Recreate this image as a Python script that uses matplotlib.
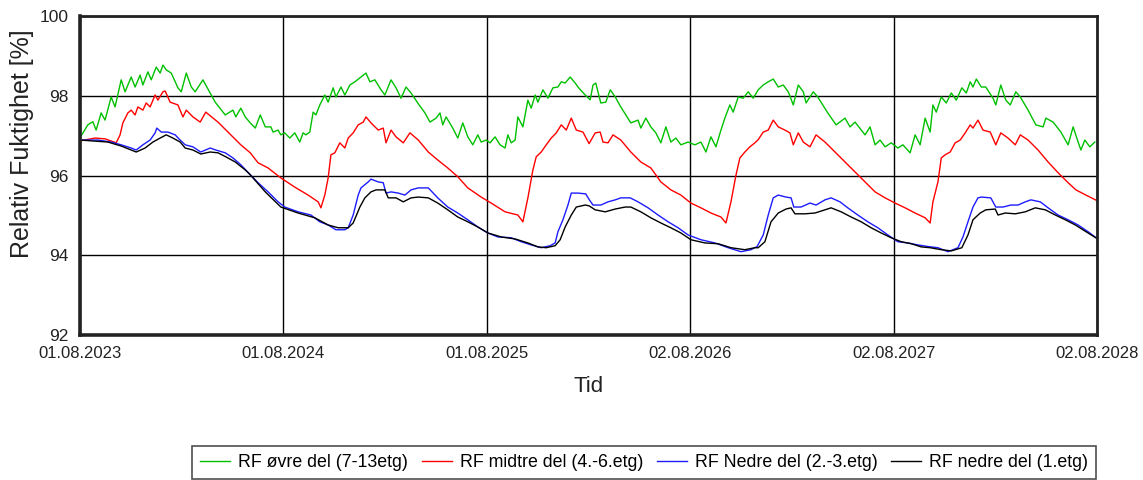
import matplotlib
matplotlib.use("Agg")
import matplotlib.pyplot as plt
import numpy as np

plt.rcParams['font.family'] = ['Liberation Sans', 'DejaVu Sans']

# dager etter 01.08.2023, RF [%]
ovre_del = [
    (1, 96.97), (14, 97.27), (23, 97.35), (29, 97.14), (38, 97.57), (45, 97.39), (56, 97.97),
    (63, 97.72), (74, 98.40), (81, 98.10), (92, 98.47), (99, 98.22), (108, 98.52), (113, 98.27),
    (122, 98.60), (128, 98.40), (137, 98.72), (144, 98.57), (149, 98.77), (155, 98.65),
    (164, 98.57), (176, 98.20), (182, 98.10), (191, 98.57), (200, 98.22), (207, 98.10),
    (221, 98.40), (226, 98.27), (243, 97.84), (261, 97.52), (275, 97.64), (280, 97.47),
    (289, 97.69), (297, 97.47), (306, 97.32), (315, 97.19), (324, 97.52), (333, 97.22),
    (343, 97.22), (347, 97.09), (356, 97.14), (361, 97.02), (368, 97.07), (377, 96.94),
    (386, 97.07), (395, 96.84), (401, 97.07), (406, 97.02), (413, 97.09), (419, 97.59),
    (424, 97.52), (431, 97.77), (440, 98.02), (446, 97.84), (455, 98.20), (460, 97.97),
    (469, 98.22), (476, 98.02), (485, 98.27), (494, 98.35), (503, 98.45), (509, 98.52),
    (514, 98.57), (521, 98.35), (530, 98.40), (541, 98.15), (548, 98.02), (559, 98.40),
    (568, 98.20), (577, 97.94), (586, 98.22), (595, 98.07), (608, 97.80), (620, 97.57),
    (629, 97.34), (640, 97.44), (647, 97.57), (652, 97.27), (658, 97.47), (670, 97.19),
    (679, 96.94), (688, 97.32), (697, 96.97), (706, 96.77), (715, 97.02), (721, 96.84),
    (730, 96.89), (737, 96.82), (746, 96.97), (755, 96.77), (764, 96.69), (769, 97.02),
    (775, 96.82), (782, 96.89), (787, 97.47), (796, 97.22), (805, 97.89), (811, 97.69),
    (818, 98.02), (823, 97.84), (832, 98.15), (841, 97.94), (850, 98.20), (859, 98.22),
    (865, 98.35), (872, 98.32), (881, 98.47), (890, 98.32), (895, 98.22), (908, 98.02),
    (917, 97.90), (922, 98.27), (927, 98.32), (936, 97.82), (945, 97.84), (953, 98.15),
    (962, 97.97), (972, 97.72), (990, 97.32), (1003, 97.39), (1008, 97.19), (1017, 97.44),
    (1026, 97.22), (1035, 97.07), (1044, 96.82), (1053, 97.22), (1062, 96.84), (1071, 96.94),
    (1080, 96.77), (1093, 96.84), (1105, 96.77), (1116, 96.84), (1125, 96.59), (1134, 96.97),
    (1143, 96.72), (1152, 97.14), (1159, 97.44), (1168, 97.77), (1174, 97.59), (1183, 97.97),
    (1192, 97.94), (1201, 98.10), (1210, 97.94), (1219, 98.15), (1228, 98.27), (1237, 98.35),
    (1246, 98.42), (1255, 98.22), (1264, 98.27), (1273, 98.10), (1282, 97.77), (1291, 98.27),
    (1300, 98.10), (1305, 97.82), (1318, 98.10), (1326, 97.97), (1344, 97.57), (1359, 97.27),
    (1375, 97.44), (1384, 97.22), (1393, 97.34), (1411, 97.02), (1420, 97.22), (1429, 96.77),
    (1438, 96.89), (1447, 96.72), (1458, 96.82), (1470, 96.69), (1479, 96.77), (1492, 96.57),
    (1501, 97.02), (1510, 96.77), (1519, 97.44), (1528, 97.09), (1533, 97.77), (1539, 97.59),
    (1548, 97.97), (1557, 97.82), (1566, 98.07), (1575, 97.89), (1585, 98.20), (1593, 98.07),
    (1600, 98.35), (1605, 98.22), (1611, 98.42), (1620, 98.22), (1628, 98.22), (1641, 97.94),
    (1646, 97.77), (1655, 98.27), (1664, 97.89), (1672, 97.77), (1682, 98.10), (1690, 97.97),
    (1704, 97.64), (1718, 97.27), (1731, 97.22), (1736, 97.44), (1749, 97.34), (1763, 97.09),
    (1776, 96.77), (1785, 97.22), (1794, 96.84), (1799, 96.64), (1806, 96.89), (1815, 96.72),
    (1824, 96.84),
]

midtre_del = [
    (0, 96.87), (27, 96.94), (45, 96.92), (65, 96.82), (72, 97.02), (77, 97.32), (86, 97.57),
    (92, 97.64), (99, 97.52), (104, 97.72), (113, 97.64), (119, 97.82), (126, 97.72),
    (135, 98.02), (140, 97.89), (149, 98.10), (153, 98.12), (162, 97.84), (176, 97.77),
    (185, 97.47), (191, 97.64), (203, 97.47), (216, 97.34), (226, 97.59), (248, 97.34),
    (271, 97.02), (289, 96.77), (306, 96.57), (320, 96.32), (338, 96.19), (361, 95.94),
    (386, 95.71), (410, 95.51), (428, 95.34), (433, 95.19), (440, 95.51), (446, 95.94),
    (451, 96.52), (458, 96.57), (467, 96.82), (476, 96.69), (482, 96.94), (491, 97.07),
    (500, 97.27), (509, 97.34), (514, 97.47), (523, 97.32), (536, 97.14), (545, 97.19),
    (550, 96.82), (559, 97.14), (568, 96.97), (581, 96.82), (593, 97.07), (608, 96.89),
    (626, 96.59), (643, 96.39), (661, 96.19), (679, 95.97), (697, 95.69), (721, 95.46),
    (739, 95.31), (764, 95.09), (787, 95.01), (796, 94.84), (805, 95.44), (814, 96.14),
    (820, 96.47), (829, 96.59), (838, 96.77), (847, 96.94), (856, 97.07), (865, 97.27),
    (874, 97.14), (883, 97.44), (892, 97.14), (904, 97.09), (915, 96.80), (926, 97.07),
    (935, 97.09), (940, 96.84), (949, 96.82), (958, 97.02), (972, 96.89), (990, 96.59),
    (1008, 96.34), (1026, 96.19), (1044, 95.84), (1062, 95.64), (1080, 95.51), (1098, 95.31),
    (1116, 95.19), (1134, 95.06), (1152, 94.96), (1161, 94.81), (1170, 95.34), (1179, 96.01),
    (1186, 96.44), (1195, 96.59), (1204, 96.72), (1213, 96.82), (1219, 96.90), (1228, 97.09),
    (1237, 97.14), (1246, 97.39), (1255, 97.22), (1267, 97.14), (1276, 97.07), (1282, 96.77),
    (1291, 97.07), (1300, 96.84), (1312, 96.72), (1323, 97.02), (1339, 96.84), (1357, 96.59),
    (1375, 96.34), (1393, 96.09), (1411, 95.84), (1429, 95.59), (1447, 95.44), (1465, 95.31),
    (1483, 95.19), (1501, 95.06), (1519, 94.94), (1528, 94.81), (1533, 95.34), (1542, 95.84),
    (1548, 96.44), (1555, 96.52), (1564, 96.59), (1573, 96.82), (1582, 96.89), (1591, 97.07),
    (1600, 97.27), (1605, 97.19), (1614, 97.39), (1623, 97.14), (1636, 97.09), (1646, 96.77),
    (1655, 97.07), (1668, 96.94), (1681, 96.77), (1690, 97.02), (1704, 96.89), (1722, 96.64),
    (1740, 96.34), (1758, 96.07), (1776, 95.82), (1790, 95.64), (1808, 95.51), (1828, 95.37),
]

nedre_del_2_3 = [
    (0, 96.89), (32, 96.89), (56, 96.84), (74, 96.77), (92, 96.69), (101, 96.64), (113, 96.77),
    (126, 96.89), (135, 97.07), (138, 97.19), (146, 97.09), (158, 97.09), (171, 97.02),
    (180, 96.89), (189, 96.77), (203, 96.72), (217, 96.59), (234, 96.69), (244, 96.64),
    (261, 96.57), (275, 96.44), (289, 96.27), (306, 96.02), (320, 95.82), (338, 95.59),
    (356, 95.34), (368, 95.21), (392, 95.09), (415, 95.01), (431, 94.84), (446, 94.76),
    (460, 94.64), (476, 94.64), (482, 94.69), (491, 95.01), (500, 95.51), (505, 95.69),
    (518, 95.84), (523, 95.91), (536, 95.84), (545, 95.82), (550, 95.56), (559, 95.59),
    (572, 95.56), (584, 95.51), (595, 95.64), (608, 95.69), (626, 95.69), (643, 95.44),
    (661, 95.21), (679, 95.06), (697, 94.89), (715, 94.71), (733, 94.56), (751, 94.46),
    (775, 94.44), (793, 94.34), (811, 94.26), (829, 94.19), (845, 94.24), (854, 94.31),
    (859, 94.59), (868, 94.89), (877, 95.26), (883, 95.56), (895, 95.56), (909, 95.54),
    (915, 95.40), (922, 95.26), (936, 95.26), (949, 95.34), (962, 95.39), (972, 95.44),
    (989, 95.44), (1003, 95.34), (1021, 95.19), (1039, 95.01), (1057, 94.84), (1075, 94.69),
    (1093, 94.51), (1116, 94.39), (1141, 94.31), (1165, 94.19), (1188, 94.09), (1206, 94.14),
    (1217, 94.22), (1228, 94.51), (1237, 95.01), (1246, 95.44), (1255, 95.51), (1269, 95.46),
    (1278, 95.44), (1283, 95.21), (1296, 95.21), (1312, 95.31), (1323, 95.26), (1339, 95.39),
    (1350, 95.44), (1366, 95.34), (1380, 95.19), (1398, 95.01), (1416, 94.84), (1434, 94.69),
    (1452, 94.51), (1470, 94.34), (1488, 94.31), (1506, 94.26), (1524, 94.22), (1542, 94.19),
    (1560, 94.09), (1578, 94.19), (1587, 94.46), (1596, 94.84), (1605, 95.21), (1614, 95.44),
    (1620, 95.46), (1637, 95.44), (1646, 95.21), (1659, 95.21), (1673, 95.26), (1686, 95.26),
    (1699, 95.34), (1709, 95.39), (1726, 95.34), (1740, 95.19), (1758, 95.01), (1776, 94.89),
    (1794, 94.76), (1812, 94.59), (1828, 94.42),
]

nedre_del_1 = [
    (0, 96.89), (50, 96.84), (74, 96.74), (101, 96.59), (117, 96.69), (131, 96.84), (144, 96.94),
    (155, 97.02), (167, 96.94), (180, 96.84), (189, 96.69), (203, 96.64), (217, 96.54),
    (234, 96.59), (248, 96.57), (262, 96.47), (279, 96.34), (297, 96.14), (306, 96.02),
    (333, 95.59), (361, 95.21), (392, 95.06), (422, 94.94), (446, 94.76), (464, 94.69),
    (482, 94.69), (491, 94.81), (503, 95.21), (512, 95.44), (523, 95.59), (532, 95.64),
    (548, 95.64), (554, 95.44), (568, 95.44), (581, 95.34), (595, 95.44), (608, 95.46),
    (626, 95.44), (643, 95.31), (661, 95.14), (679, 94.96), (697, 94.84), (715, 94.71),
    (733, 94.56), (757, 94.46), (782, 94.41), (805, 94.31), (823, 94.21), (838, 94.19),
    (854, 94.24), (863, 94.39), (872, 94.71), (883, 95.01), (892, 95.21), (908, 95.26),
    (915, 95.24), (926, 95.14), (944, 95.09), (962, 95.16), (980, 95.21), (990, 95.21),
    (1008, 95.09), (1026, 94.94), (1044, 94.81), (1062, 94.69), (1080, 94.56), (1098, 94.39),
    (1123, 94.31), (1147, 94.29), (1170, 94.19), (1195, 94.14), (1213, 94.19), (1219, 94.19),
    (1231, 94.34), (1242, 94.84), (1255, 95.06), (1269, 95.16), (1278, 95.19), (1285, 95.04),
    (1303, 95.04), (1321, 95.06), (1339, 95.14), (1350, 95.19), (1368, 95.09), (1386, 94.96),
    (1404, 94.84), (1422, 94.69), (1440, 94.56), (1458, 94.44), (1476, 94.34), (1494, 94.29),
    (1512, 94.21), (1528, 94.19), (1548, 94.14), (1566, 94.11), (1585, 94.19), (1596, 94.51),
    (1605, 94.89), (1618, 95.06), (1628, 95.14), (1645, 95.16), (1650, 95.01), (1663, 95.06),
    (1681, 95.04), (1699, 95.09), (1717, 95.19), (1735, 95.14), (1753, 95.01), (1771, 94.89),
    (1789, 94.76), (1806, 94.61), (1828, 94.42),
]

serier = [
    ('RF øvre del (7-13etg)', ovre_del, '#00c000'),
    ('RF midtre del (4.-6.etg)', midtre_del, '#ff0000'),
    ('RF Nedre del (2.-3.etg)', nedre_del_2_3, '#1c1cff'),
    ('RF nedre del (1.etg)', nedre_del_1, '#000000'),
]

x_labels = ['01.08.2023', '01.08.2024', '01.08.2025', '02.08.2026', '02.08.2027', '02.08.2028']
total_dager = 1828

fig = plt.figure(figsize=(11.43, 4.8), dpi=100)
ax = fig.add_axes([0.070, 0.302, 0.8898, 0.6646])

for navn, pts, farge in serier:
    d, v = zip(*pts)
    ax.plot(d, v, color=farge, lw=1.0, label=navn)

ax.set_xlim(0, total_dager)
ax.set_ylim(92, 100)
ax.set_xticks(np.linspace(0, total_dager, len(x_labels)))
ax.set_xticklabels(x_labels)
ax.set_yticks([92, 94, 96, 98, 100])
ax.tick_params(axis='x', length=0, labelsize=12, colors='#222222', pad=8)
ax.tick_params(axis='y', length=0, labelsize=12.5, colors='#222222', pad=8)
ax.grid(True, color='black', lw=1.0)
ax.set_axisbelow(True)
for s in ax.spines.values():
    s.set_linewidth(2.0)
    s.set_color('#222222')
ax.spines['left'].set_linewidth(2.6)
ax.spines['bottom'].set_linewidth(2.6)

ax.set_xlabel('Tid', fontsize=16, color='#222222', labelpad=11)
ax.set_ylabel('Relativ Fuktighet [%]', fontsize=18, color='#222222')
ax.yaxis.set_label_coords(-0.045, 0.60)

leg = fig.legend(loc='lower right', bbox_to_anchor=(0.9598, 0.0), ncol=4, fontsize=12.8,
                 frameon=True, fancybox=False, edgecolor='#222222', handlelength=1.7,
                 handletextpad=0.45, columnspacing=0.75, borderpad=0.45, borderaxespad=0.05)
leg.get_frame().set_linewidth(1.2)

fig.savefig('out.png', dpi=100)
